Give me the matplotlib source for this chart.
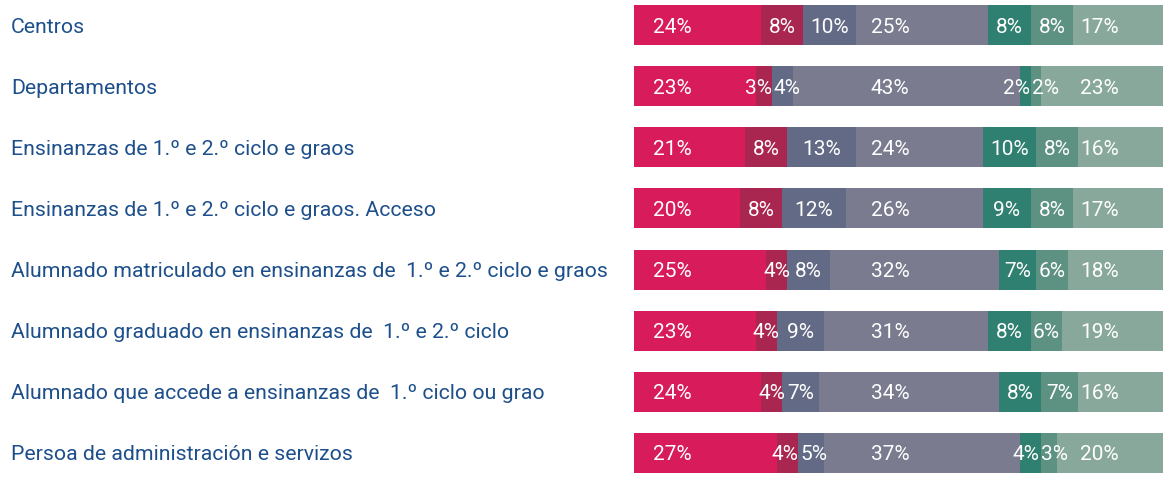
import numpy as np
import matplotlib
matplotlib.use("Agg")
import matplotlib.pyplot as plt
from matplotlib.transforms import blended_transform_factory

plt.rcParams['font.family'] = ['Roboto', 'DejaVu Sans']

categories = [
    "Centros",
    "Departamentos",
    "Ensinanzas de 1.º e 2.º ciclo e graos",
    "Ensinanzas de 1.º e 2.º ciclo e graos. Acceso",
    "Alumnado matriculado en ensinanzas de  1.º e 2.º ciclo e graos",
    "Alumnado graduado en ensinanzas de  1.º e 2.º ciclo",
    "Alumnado que accede a ensinanzas de  1.º ciclo ou grao",
    "Persoa de administración e servizos",
]

# seven segments per row, percentages
seg1 = [24, 23, 21, 20, 25, 23, 24, 27]
seg2 = [8, 3, 8, 8, 4, 4, 4, 4]
seg3 = [10, 4, 13, 12, 8, 9, 7, 5]
seg4 = [25, 43, 24, 26, 32, 31, 34, 37]
seg5 = [8, 2, 10, 9, 7, 8, 8, 4]
seg6 = [8, 2, 8, 8, 6, 6, 7, 3]
seg7 = [17, 23, 16, 17, 18, 19, 16, 20]

segments = [seg1, seg2, seg3, seg4, seg5, seg6, seg7]
colors = ["#d81b5a", "#a8264f", "#636a85", "#7a7b8f", "#2f8070", "#5d9282", "#88a89b"]

FS = 15
CHAR_W = 2.45   # approx label width per character, in % units
GAP = 0.6

fig = plt.figure(figsize=(11.63, 4.78), dpi=100)
ax = fig.add_axes([634 / 1163, 0, 1 - 634 / 1163, 1])

y = np.arange(len(categories))
n = len(categories)
left = np.zeros(n)
labels = [[] for _ in range(n)]  # (x, text, fixed)
for k, (vals, c) in enumerate(zip(segments, colors)):
    vals = np.array(vals, dtype=float)
    ax.barh(y, vals, left=left, height=0.654, color=c, linewidth=0)
    for i, v in enumerate(vals):
        txt = f"{int(v)}%"
        w = len(txt) * CHAR_W
        if k == 0:
            labels[i].append([left[i] + 3.6 + w / 2, txt, True])
        elif k == 3:
            labels[i].append([48.4, txt, True])
        elif k == 6:
            labels[i].append([84.3 + w / 2, txt, True])
        else:
            labels[i].append([left[i] + v / 2, txt, False])
    left += vals

# push apart labels that collide
for row in labels:
    for _ in range(20):
        for a, b in zip(row[:-1], row[1:]):
            need = (len(a[1]) + len(b[1])) * CHAR_W / 2 + GAP
            d = b[0] - a[0]
            if d < need:
                short = need - d
                if a[2] and not b[2]:
                    b[0] += short
                elif b[2] and not a[2]:
                    a[0] -= short
                elif not a[2] and not b[2]:
                    a[0] -= short / 2
                    b[0] += short / 2

for i, row in enumerate(labels):
    for xpos, txt, _ in row:
        ax.text(xpos, i, txt, ha="center", va="center_baseline", color="white",
                fontsize=FS)

ax.set_xlim(0, left.max())
ax.set_ylim(7.409, -0.409)
ax.axis("off")

tr = blended_transform_factory(fig.transFigure, ax.transData)
for i, cat in enumerate(categories):
    ax.text(11 / 1163, i, cat, transform=tr, ha="left", va="center_baseline",
            color="#1d4f8b", fontsize=15.3)

fig.savefig("out.png", dpi=100)
